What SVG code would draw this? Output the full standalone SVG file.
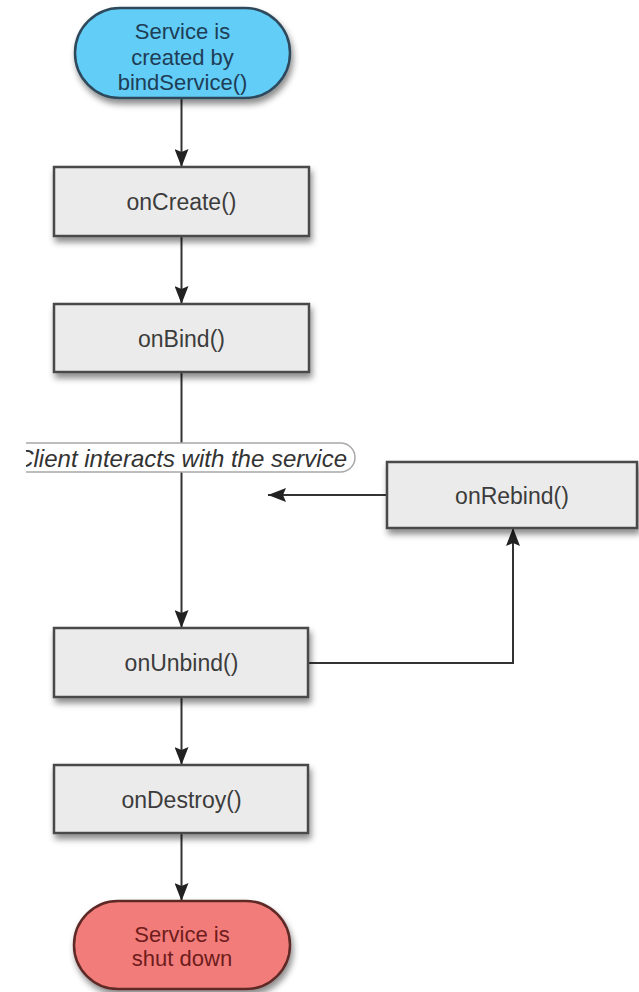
<svg xmlns="http://www.w3.org/2000/svg" width="639" height="992" viewBox="0 0 639 992">
  <style>
    .box { fill: #ebebeb; stroke: #4a4a4a; stroke-width: 2.5; }
    .label { font-family: "Liberation Sans", Arial, sans-serif; font-size: 23px; fill: #3c3c3c; text-anchor: middle; dominant-baseline: central; }
    .start { fill: #62cdf6; stroke: #2f4a5c; stroke-width: 2.5; }
    .start-text { font-family: "Liberation Sans", Arial, sans-serif; font-size: 22px; fill: #1e3d57; text-anchor: middle; dominant-baseline: central; }
    .end { fill: #f27c7a; stroke: #5e2a28; stroke-width: 2.5; }
    .end-text { font-family: "Liberation Sans", Arial, sans-serif; font-size: 22px; fill: #6e1c1c; text-anchor: middle; dominant-baseline: central; }
    .edge { fill: none; stroke: #333; stroke-width: 2; }
    .note { fill: #ffffff; stroke: #a8a8a8; stroke-width: 1.5; }
    .note-text { font-family: "Liberation Sans", Arial, sans-serif; font-size: 24px; font-style: italic; fill: #333; text-anchor: end; dominant-baseline: central; }
  </style>
  <defs>
    <marker id="arrow" viewBox="0 0 18 14" refX="18" refY="7" markerWidth="18" markerHeight="14" markerUnits="userSpaceOnUse" orient="auto">
      <path d="M0,0 L18,7 L0,14 L3,7 z" fill="#222"/>
    </marker>
    <filter id="shadow" x="-10%" y="-20%" width="125%" height="160%">
      <feDropShadow dx="2" dy="5" stdDeviation="3" flood-color="#000" flood-opacity="0.45"/>
    </filter>
    <clipPath id="frame">
      <rect x="26" y="0" width="613" height="992"/>
    </clipPath>
  </defs>

  <rect width="639" height="992" fill="#ffffff"/>

  <!-- connectors -->
  <g id="connectors">
    <path class="edge" d="M181.5,98 V167" marker-end="url(#arrow)"/>
    <path class="edge" d="M181.5,236 V304" marker-end="url(#arrow)"/>
    <path class="edge" d="M181.5,372 V628" marker-end="url(#arrow)"/>
    <path class="edge" d="M387,495 H268" marker-end="url(#arrow)"/>
    <path class="edge" d="M308,663 H513 V528" marker-end="url(#arrow)"/>
    <path class="edge" d="M181.5,697 V765" marker-end="url(#arrow)"/>
    <path class="edge" d="M181.5,833 V901" marker-end="url(#arrow)"/>
  </g>

  <!-- start terminal -->
  <g id="start">
    <rect class="start" x="75" y="8" width="215" height="90" rx="45" ry="45" filter="url(#shadow)"/>
    <text class="start-text" x="182.5" y="31">Service is</text>
    <text class="start-text" x="182.5" y="57">created by</text>
    <text class="start-text" x="182.5" y="82">bindService()</text>
  </g>

  <g id="onCreate">
    <rect class="box" x="54" y="167" width="255" height="69" filter="url(#shadow)"/>
    <text class="label" x="181.5" y="202">onCreate()</text>
  </g>

  <g id="onBind">
    <rect class="box" x="54" y="304" width="255" height="68" filter="url(#shadow)"/>
    <text class="label" x="181.5" y="339">onBind()</text>
  </g>

  <!-- annotation on the bound phase -->
  <g id="client-note" clip-path="url(#frame)">
    <rect class="note" x="-10" y="443" width="365" height="29" rx="14.5" ry="14.5"/>
    <text class="note-text" x="347" y="458">Client interacts with the service</text>
  </g>

  <g id="onRebind">
    <rect class="box" x="387" y="462" width="250" height="66" filter="url(#shadow)"/>
    <text class="label" x="512" y="496">onRebind()</text>
  </g>

  <g id="onUnbind">
    <rect class="box" x="54" y="628" width="254" height="69" filter="url(#shadow)"/>
    <text class="label" x="181.5" y="663">onUnbind()</text>
  </g>

  <g id="onDestroy">
    <rect class="box" x="54" y="765" width="254" height="68" filter="url(#shadow)"/>
    <text class="label" x="181.5" y="800">onDestroy()</text>
  </g>

  <!-- end terminal -->
  <g id="end">
    <rect class="end" x="74" y="901" width="216" height="88" rx="44" ry="44" filter="url(#shadow)"/>
    <text class="end-text" x="182" y="934">Service is</text>
    <text class="end-text" x="182" y="958">shut down</text>
  </g>
</svg>
